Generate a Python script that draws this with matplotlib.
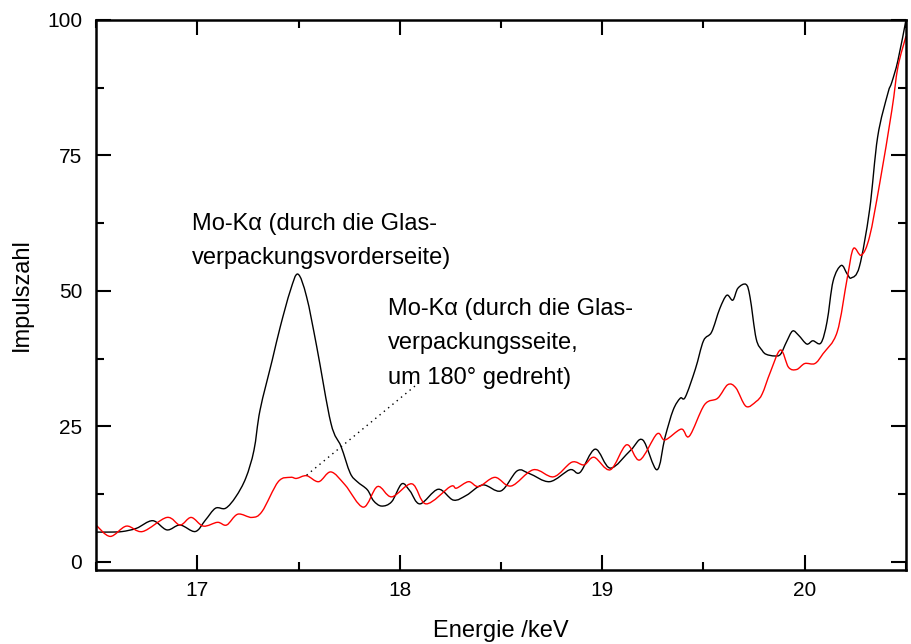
import matplotlib
matplotlib.use("Agg")
import numpy as np
import matplotlib.pyplot as plt
from matplotlib.path import Path
from matplotlib.patches import PathPatch
from matplotlib.ticker import MultipleLocator

plt.rcParams['font.family'] = ['Liberation Sans', 'DejaVu Sans']

# Spectrum through the front side of the glass packaging (black)
energy_front = [16.50, 16.57, 16.63, 16.70, 16.78, 16.85, 16.915, 16.99, 17.04, 17.09,
                17.14, 17.19, 17.24, 17.28, 17.31, 17.37, 17.41, 17.46, 17.497, 17.54,
                17.59, 17.66, 17.71, 17.755, 17.79, 17.84, 17.87, 17.91, 17.96, 18.01,
                18.05, 18.10, 18.19, 18.265, 18.33, 18.41, 18.50, 18.58, 18.64, 18.74,
                18.84, 18.89, 18.965, 19.04, 19.14, 19.20, 19.27, 19.31, 19.35, 19.385,
                19.41, 19.46, 19.50, 19.54, 19.58, 19.615, 19.645, 19.67, 19.71, 19.73,
                19.76, 19.79, 19.81, 19.85, 19.88, 19.91, 19.94, 19.97, 20.01, 20.04,
                20.08, 20.11, 20.14, 20.18, 20.21, 20.23, 20.27, 20.32, 20.36, 20.41,
                20.43, 20.46, 20.50]
counts_front = [5.5, 5.5, 5.6, 6.2, 7.6, 5.9, 6.8, 5.6, 7.7, 9.9,
                9.9, 12.0, 15.5, 20.6, 28.0, 37.2, 43.4, 50.1, 53.1, 48.9,
                39.7, 25.6, 21.3, 16.4, 14.8, 13.3, 11.3, 10.3, 11.1, 14.4,
                13.1, 10.7, 13.4, 11.4, 12.3, 14.2, 13.1, 16.8, 16.3, 14.8,
                17.0, 16.5, 20.8, 17.3, 20.6, 22.5, 17.0, 23.0, 28.0, 30.2,
                30.4, 35.6, 40.8, 42.4, 46.7, 49.2, 48.3, 50.5, 51.2, 48.8,
                41.2, 39.0, 38.3, 38.0, 38.3, 40.6, 42.6, 41.8, 40.2, 40.8,
                40.4, 44.3, 51.8, 54.7, 53.1, 52.4, 54.5, 64.9, 78.4, 86.4,
                88.5, 92.5, 100.0]

# Spectrum through the side of the glass packaging, rotated by 180 deg (red)
energy_side = [16.50, 16.57, 16.65, 16.73, 16.85, 16.915, 16.97, 17.03, 17.10, 17.145,
               17.20, 17.27, 17.32, 17.40, 17.46, 17.49, 17.54, 17.60, 17.66, 17.73,
               17.82, 17.89, 17.96, 18.06, 18.13, 18.25, 18.28, 18.34, 18.39, 18.47,
               18.55, 18.66, 18.76, 18.85, 18.91, 18.96, 19.04, 19.12, 19.185, 19.27,
               19.31, 19.39, 19.43, 19.505, 19.57, 19.62, 19.66, 19.71, 19.76, 19.79,
               19.83, 19.88, 19.92, 19.96, 20.00, 20.05, 20.09, 20.16, 20.21, 20.24,
               20.28, 20.32, 20.37, 20.43, 20.46, 20.50]
counts_side = [6.8, 4.7, 6.6, 5.6, 8.2, 6.8, 8.2, 6.6, 7.3, 6.8,
               8.8, 8.2, 9.3, 14.8, 15.6, 15.4, 15.9, 14.8, 16.6, 14.2,
               10.1, 13.9, 12.0, 14.4, 10.7, 13.9, 13.6, 14.8, 13.9, 15.6,
               14.0, 17.0, 15.7, 18.4, 17.9, 19.3, 17.0, 21.6, 18.8, 23.6,
               22.5, 24.5, 23.2, 29.0, 30.2, 32.7, 32.1, 28.7, 29.6, 31.0,
               35.0, 39.1, 35.9, 35.5, 36.6, 36.6, 38.4, 42.4, 52.4, 57.8,
               56.6, 60.0, 69.8, 83.3, 91.3, 97.0]

x_ticks = [17, 18, 19, 20]
y_ticks = [0, 25, 50, 75, 100]


def smooth_path(x, y):
    """Catmull-Rom curve through the measured points, as cubic Bezier segments."""
    p = np.column_stack([x, y]).astype(float)
    pts = np.vstack([p[0], p, p[-1]])
    verts = [p[0]]
    codes = [Path.MOVETO]
    for i in range(1, len(pts) - 2):
        p0, p1, p2, p3 = pts[i - 1], pts[i], pts[i + 1], pts[i + 2]
        c1 = p1 + (p2 - p0) / 6.0
        c2 = p2 - (p3 - p1) / 6.0
        verts += [c1, c2, p2]
        codes += [Path.CURVE4] * 3
    return Path(verts, codes)


fig = plt.figure(figsize=(9.11, 6.44), dpi=100)
ax = fig.add_axes([0.1054, 0.1149, 0.8891, 0.8541])

# invisible lines keep the data in the axes' line list
ax.plot(energy_front, counts_front, color='black', lw=0, alpha=0)
ax.plot(energy_side, counts_side, color='#ff0000', lw=0, alpha=0)
ax.add_patch(PathPatch(smooth_path(energy_front, counts_front), fill=False,
                       edgecolor='black', lw=1.0))
ax.add_patch(PathPatch(smooth_path(energy_side, counts_side), fill=False,
                       edgecolor='#ff0000', lw=1.0))

ax.set_xlim(16.5, 20.5)
ax.set_ylim(-1.5, 100)
ax.set_xticks(x_ticks)
ax.set_yticks(y_ticks)
ax.xaxis.set_minor_locator(MultipleLocator(0.5))
ax.yaxis.set_minor_locator(MultipleLocator(12.5))
ax.tick_params(which='both', direction='in', top=True, right=True,
               width=1.5, labelsize=15)
ax.tick_params(axis='y', pad=10)
ax.tick_params(axis='x', pad=8)
ax.tick_params(which='major', length=11)
ax.tick_params(which='minor', length=6)
for s in ax.spines.values():
    s.set_linewidth(1.8)

ax.set_xlabel('Energie /keV', fontsize=17, labelpad=14)
ax.set_ylabel('Impulszahl', fontsize=17, labelpad=10)

ax.text(16.974, 54.9, 'Mo-K\u03b1 (durch die Glas-\nverpackungsvorderseite)',
        fontsize=17, ha='left', va='baseline', linespacing=1.72)
ax.text(17.943, 32.9, 'Mo-K\u03b1 (durch die Glas-\nverpackungsseite,\num 180\u00b0 gedreht)',
        fontsize=17, ha='left', va='baseline', linespacing=1.72)
ax.plot([17.54, 18.08], [16.0, 32.6], color='black', lw=1.0, ls=(0, (1, 3)))

fig.savefig('out.png', dpi=100)
